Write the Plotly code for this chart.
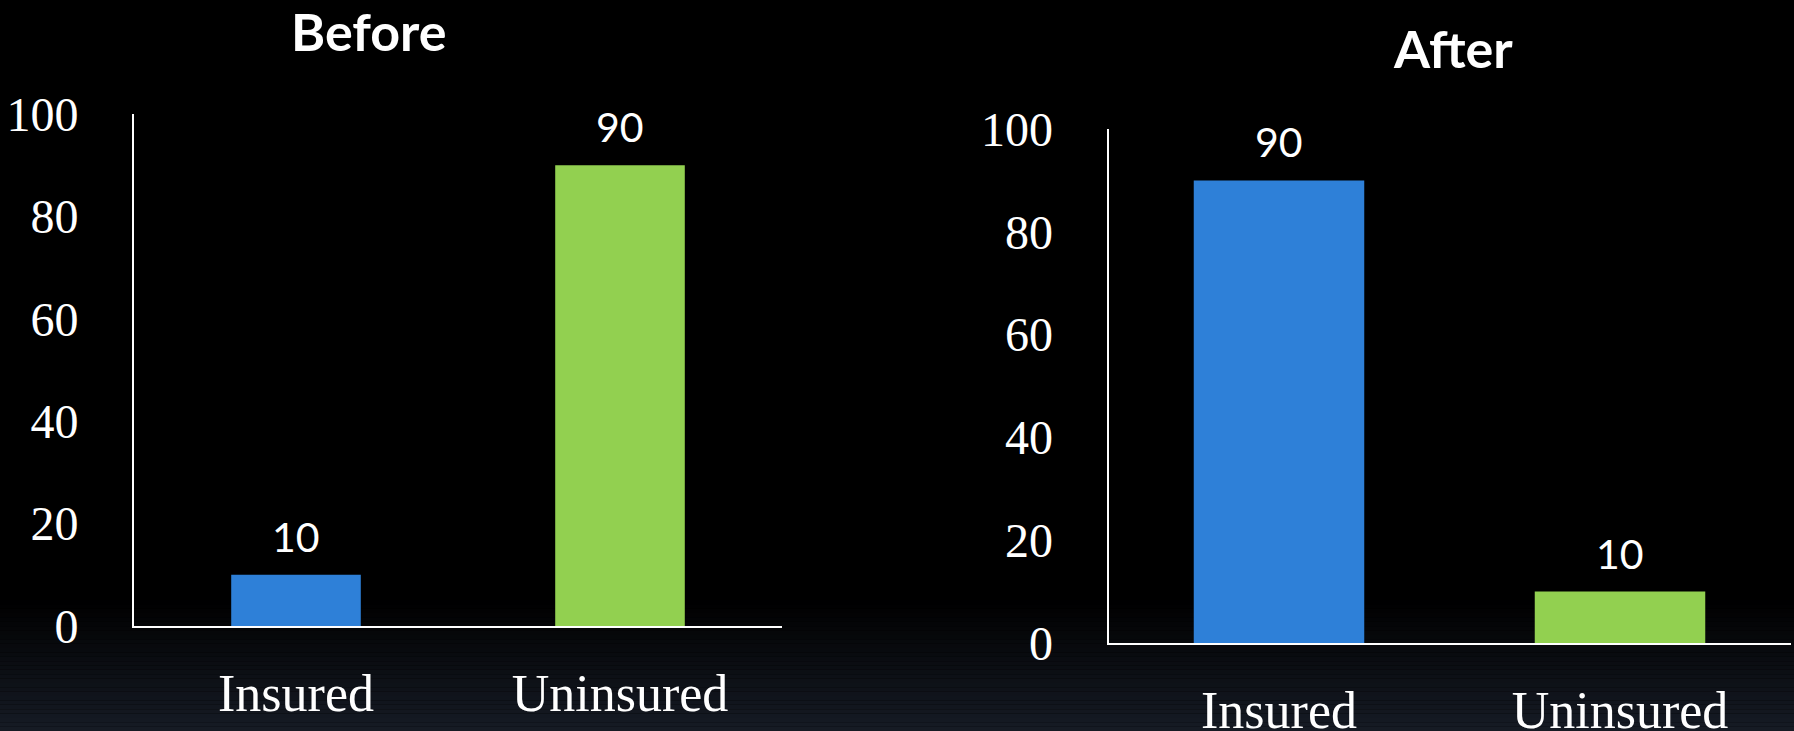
import plotly.graph_objects as go

categories = ["Insured", "Uninsured"]
before_values = [10, 90]
after_values = [90, 10]
bar_colors = ["#2E80D8", "#92D050"]
y_ticks = [0, 20, 40, 60, 80, 100]
titles = ["Before", "After"]

W, H = 1794, 731
fig = go.Figure()

fig.add_trace(go.Bar(x=categories, y=before_values, marker=dict(color=bar_colors, line=dict(width=0)),
                     width=0.40, xaxis="x", yaxis="y", hoverinfo="skip"))
fig.add_trace(go.Bar(x=categories, y=after_values, marker=dict(color=bar_colors, line=dict(width=0)),
                     width=0.50, xaxis="x2", yaxis="y2", hoverinfo="skip"))

label_font = dict(family="Lato", size=41, color="white")
annotations = []
for xa, ya, vals in [("x", "y", before_values), ("x2", "y2", after_values)]:
    for c, v in zip(categories, vals):
        annotations.append(dict(x=c, y=v, xref=xa, yref=ya, text=str(v), showarrow=False,
                                yanchor="bottom", yshift=12, font=label_font))

title_font = dict(family="Lato", size=52, color="white")
annotations.append(dict(x=368 / W, y=1 - 31 / H, xref="paper", yref="paper", text="<b>%s</b>" % titles[0],
                        showarrow=False, xanchor="center", yanchor="middle", font=title_font))
annotations.append(dict(x=1453 / W, y=1 - 48 / H, xref="paper", yref="paper", text="<b>%s</b>" % titles[1],
                        showarrow=False, xanchor="center", yanchor="middle", font=title_font))

# background gradient at the bottom
shapes = []
g0, g1 = 600, H
n = 30
for i in range(n):
    y0 = g0 + (g1 - g0) * i / n
    y1 = g0 + (g1 - g0) * (i + 1) / n
    t = (i + 0.5) / n
    col = "rgb(%d,%d,%d)" % (round(22 * t), round(27 * t), round(37 * t))
    shapes.append(dict(type="rect", xref="paper", yref="paper", x0=0, x1=1,
                       y0=1 - y1 / H, y1=1 - y0 / H, fillcolor=col, line=dict(width=0), layer="below"))

tick_font = dict(family="Liberation Serif", size=48, color="white")
xlab_font = dict(family="Liberation Serif", size=52, color="white")

def yax(domain):
    return dict(domain=domain, range=[0, 100], tickvals=y_ticks, showgrid=False, zeroline=False,
                showline=True, linecolor="white", linewidth=2, ticks="", tickfont=tick_font,
                ticklabelstandoff=44, fixedrange=True, automargin=False)

def xax(domain, anchor):
    return dict(domain=domain, anchor=anchor, showgrid=False, zeroline=False, showline=True,
                linecolor="white", linewidth=2, ticks="", tickfont=xlab_font, ticklabelstandoff=21,
                range=[-0.5, 1.5], fixedrange=True, automargin=False)

fig.update_layout(
    width=W, height=H,
    margin=dict(l=0, r=0, t=0, b=0, pad=0),
    paper_bgcolor="black", plot_bgcolor="rgba(0,0,0,0)",
    showlegend=False,
    xaxis=xax([134 / W, 782 / W], "y"),
    yaxis=yax([1 - 626 / H, 1 - 114 / H]),
    xaxis2=xax([1108.5 / W, 1790.5 / W], "y2"),
    yaxis2=dict(yax([1 - 643 / H, 1 - 129 / H]), anchor="x2"),
    annotations=annotations,
    shapes=shapes,
)

fig.write_html("out.html", config={"displayModeBar": False},
               post_script="document.body.style.margin='0';document.body.style.overflow='hidden';document.body.style.background='black';")
